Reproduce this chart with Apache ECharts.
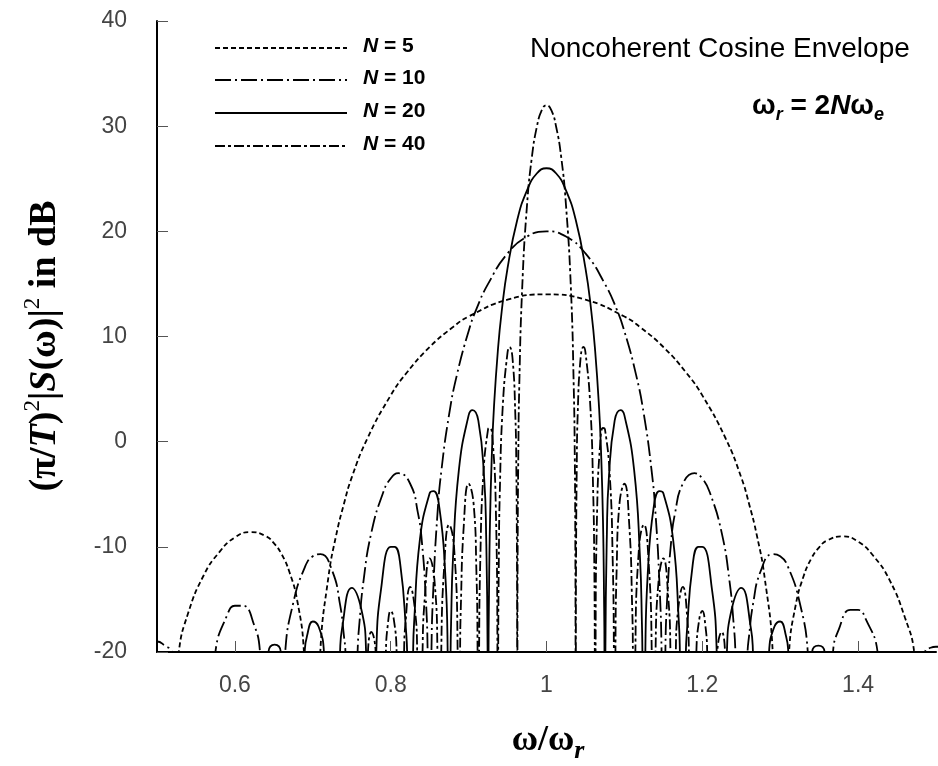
<!DOCTYPE html>
<html>
<head>
<meta charset="utf-8">
<script src="https://cdn.jsdelivr.net/npm/echarts@6/dist/echarts.min.js"></script>
<style>
  html, body { margin: 0; padding: 0; background: #fff; }
  #chart { width: 938px; height: 766px; }
</style>
</head>
<body>
<div id="chart"></div>
<script>
  // tick labels
  var xTicks = [0.6, 0.8, 1, 1.2, 1.4]
  var legendNames = ['5', '10', '20', '40']

  // [omega/omega_r, dB]; values at -40 mark the nulls (below the axis)
  var n5 = [
    [0.5, -40], [0.528, -20], [0.54, -16.3], [0.56, -12.7], [0.58, -10.5], [0.6, -9.1], [0.62, -8.6],
    [0.64, -9.0], [0.65, -9.65], [0.66, -10.7], [0.67, -12.4], [0.68, -15.1], [0.6886, -20], [0.7, -40],
    [0.7096, -20], [0.72, -12.9], [0.73, -8.9], [0.74, -5.9], [0.75, -3.4], [0.77, 0.3], [0.8, 4.4],
    [0.82, 6.5], [0.85, 9.0], [0.88, 10.9], [0.9, 11.9], [0.95, 13.5], [1, 14.0],
    [1.05, 13.5], [1.1, 11.9], [1.12, 10.9], [1.15, 9.0], [1.18, 6.5], [1.2, 4.4], [1.23, 0.3],
    [1.25, -3.4], [1.26, -5.9], [1.27, -8.9], [1.28, -12.9], [1.2904, -20], [1.3, -40],
    [1.3114, -20], [1.32, -15.5], [1.33, -12.8], [1.34, -11.1], [1.35, -10.05], [1.36, -9.4], [1.38, -9.0],
    [1.4, -9.5], [1.42, -10.9], [1.44, -13.1], [1.46, -16.7], [1.472, -20], [1.5, -40]
  ]

  var n10 = [
    [0.49, -19.1], [0.5, -19.0], [0.51, -19.4], [0.519, -20], [0.55, -40],
    [0.575, -20], [0.59, -16.5], [0.6, -15.6], [0.61, -15.6], [0.625, -17.5], [0.6322, -20], [0.65, -40],
    [0.6646, -20], [0.675, -15.3], [0.69, -11.9], [0.7, -10.9], [0.71, -10.7], [0.725, -12.3], [0.735, -15.5],
    [0.74, -18.5], [0.7419, -20], [0.75, -40],
    [0.7575, -20], [0.76, -17.1], [0.765, -13.3], [0.775, -8.7], [0.79, -4.9], [0.8, -3.5], [0.81, -3.0],
    [0.825, -4.0], [0.835, -6.8], [0.84, -9.5], [0.845, -14.8], [0.8474, -20], [0.85, -40],
    [0.8523, -20], [0.855, -13.5], [0.86, -6.9], [0.865, -2.8], [0.875, 2.6], [0.885, 6.35], [0.9, 10.5],
    [0.91, 12.6], [0.925, 15.0], [0.95, 17.9], [0.975, 19.5], [1, 20.0],
    [1.025, 19.5], [1.05, 17.9], [1.075, 15.0], [1.09, 12.6], [1.1, 10.5], [1.115, 6.35], [1.125, 2.6],
    [1.135, -2.8], [1.14, -6.9], [1.145, -13.5], [1.1477, -20], [1.15, -40],
    [1.1526, -20], [1.155, -14.8], [1.16, -9.5], [1.165, -6.8], [1.175, -4.0], [1.19, -3.0], [1.2, -3.5],
    [1.21, -4.9], [1.225, -8.7], [1.235, -13.3], [1.24, -17.1], [1.2425, -20], [1.25, -40],
    [1.2581, -20], [1.26, -18.5], [1.265, -15.5], [1.275, -12.3], [1.29, -10.7], [1.3, -10.9], [1.31, -11.9],
    [1.325, -15.3], [1.3354, -20], [1.35, -40],
    [1.3678, -20], [1.375, -17.9], [1.39, -16.0], [1.4, -16.0], [1.41, -16.9], [1.425, -20], [1.45, -40],
    [1.486, -20], [1.493, -19.6], [1.5, -19.5], [1.51, -19.5]
  ]

  var n20 = [
    [0.625, -40], [0.643, -20], [0.651, -19.3], [0.659, -20], [0.675, -40],
    [0.6896, -20], [0.6925, -18.5], [0.7, -17.1], [0.7075, -17.6], [0.7143, -20], [0.725, -40],
    [0.735, -20], [0.7375, -17.8], [0.75, -13.9], [0.7625, -16.0], [0.7684, -20], [0.775, -40],
    [0.7815, -20], [0.7875, -14.1], [0.8, -10.0], [0.805, -10.0], [0.8125, -11.8], [0.82, -18.3], [0.8211, -20], [0.825, -40],
    [0.8288, -20], [0.83, -17.3], [0.8375, -9.3], [0.85, -4.9], [0.855, -4.7], [0.8625, -6.3], [0.87, -12.5],
    [0.8731, -20], [0.875, -40],
    [0.8769, -20], [0.8775, -17.3], [0.88, -11.0], [0.8875, -2.7], [0.9, 2.5], [0.905, 3.0], [0.9125, 2.0],
    [0.92, -3.5], [0.9225, -8.8], [0.9244, -20], [0.925, -40],
    [0.9256, -20], [0.926, -15.8], [0.9275, -7.5], [0.93, -0.9], [0.9325, 3.2], [0.9375, 8.6], [0.9425, 12.4],
    [0.95, 16.5], [0.9625, 21.1], [0.975, 23.9], [0.9875, 25.5], [1, 26.0],
    [1.0125, 25.5], [1.025, 23.9], [1.0375, 21.1], [1.05, 16.5], [1.0575, 12.4], [1.0625, 8.6], [1.0675, 3.2],
    [1.07, -0.9], [1.0725, -7.5], [1.074, -15.8], [1.0744, -20], [1.075, -40],
    [1.0756, -20], [1.0775, -8.8], [1.08, -3.5], [1.0875, 2.0], [1.095, 3.0], [1.1, 2.5], [1.1125, -2.7],
    [1.12, -11.0], [1.1225, -17.3], [1.1231, -20], [1.125, -40],
    [1.1269, -20], [1.13, -12.5], [1.1375, -6.3], [1.145, -4.7], [1.15, -4.9], [1.1625, -9.3], [1.17, -17.3],
    [1.1712, -20], [1.175, -40],
    [1.1789, -20], [1.18, -18.3], [1.1875, -11.8], [1.195, -10.0], [1.2, -10.0], [1.2125, -14.1], [1.2185, -20], [1.225, -40],
    [1.2316, -20], [1.2375, -16.0], [1.25, -13.9], [1.2625, -17.8], [1.265, -20], [1.275, -40],
    [1.2857, -20], [1.2925, -17.6], [1.3, -17.1], [1.3075, -18.5], [1.3104, -20], [1.325, -40],
    [1.341, -20], [1.349, -19.4], [1.357, -20], [1.375, -40]
  ]

  var n40 = [
    [0.7625, -40], [0.7708, -20], [0.775, -18.1], [0.7807, -20], [0.7875, -40],
    [0.7938, -20], [0.7963, -17.4], [0.8, -16.1], [0.8038, -16.8], [0.8076, -20], [0.8125, -40],
    [0.8172, -20], [0.8188, -17.4], [0.825, -13.8], [0.8313, -16.1], [0.834, -20], [0.8375, -40],
    [0.8409, -20], [0.8438, -14.8], [0.85, -11.1], [0.8563, -13.3], [0.86, -20], [0.8625, -40],
    [0.8649, -20], [0.8688, -11.7], [0.875, -7.9], [0.8813, -10.0], [0.8859, -20], [0.8875, -40],
    [0.8891, -20], [0.89, -15.8], [0.8938, -8.0], [0.9, -4.0], [0.9063, -5.8], [0.91, -12.3], [0.9115, -20], [0.9125, -40],
    [0.9135, -20], [0.915, -11.3], [0.9188, -3.3], [0.925, 1.2], [0.9275, 1.3], [0.9313, -0.3], [0.935, -6.5],
    [0.937, -20], [0.9375, -40],
    [0.938, -20], [0.9388, -11.3], [0.94, -5.0], [0.9438, 3.3], [0.95, 8.5], [0.9525, 9.0], [0.9563, 8.0],
    [0.96, 2.5], [0.9613, -2.8], [0.962, -10.3], [0.9623, -20], [0.9625, -40],
    [0.9627, -20], [0.963, -9.8], [0.9638, -1.5], [0.965, 5.1], [0.9688, 14.6], [0.975, 22.5], [0.9813, 27.1],
    [0.9875, 29.9], [0.9938, 31.5], [1, 32.0],
    [1.0063, 31.5], [1.0125, 29.9], [1.0188, 27.1], [1.025, 22.5], [1.0313, 14.6], [1.035, 5.1], [1.0363, -1.5],
    [1.037, -9.8], [1.0373, -20], [1.0375, -40],
    [1.0377, -20], [1.038, -10.3], [1.0388, -2.8], [1.04, 2.5], [1.0438, 8.0], [1.0475, 9.0], [1.05, 8.5],
    [1.0563, 3.3], [1.06, -5.0], [1.0613, -11.3], [1.062, -20], [1.0625, -40],
    [1.063, -20], [1.065, -6.5], [1.0688, -0.3], [1.0725, 1.3], [1.075, 1.2], [1.0813, -3.3], [1.085, -11.3],
    [1.0865, -20], [1.0875, -40],
    [1.0885, -20], [1.09, -12.3], [1.0938, -5.8], [1.1, -4.0], [1.1063, -8.0], [1.11, -15.8], [1.1109, -20], [1.1125, -40],
    [1.1141, -20], [1.1188, -10.0], [1.125, -7.9], [1.1313, -11.7], [1.1351, -20], [1.1375, -40],
    [1.14, -20], [1.1438, -13.3], [1.15, -11.1], [1.1563, -14.8], [1.1591, -20], [1.1625, -40],
    [1.166, -20], [1.1688, -16.1], [1.175, -13.8], [1.1813, -17.4], [1.1828, -20], [1.1875, -40],
    [1.1924, -20], [1.1963, -16.8], [1.2, -16.1], [1.2038, -17.4], [1.2063, -20], [1.2125, -40],
    [1.2193, -20], [1.225, -18.1], [1.2292, -20], [1.2375, -40]
  ]

  var dashes = [[5, 3], [16, 4, 2, 4], 'solid', [10, 3, 3, 3]]
  var curves = [n5, n10, n20, n40]

  var chart = echarts.init(document.getElementById('chart'), null, {renderer: 'canvas'})

  var series = curves.map(function (d, i) {
    return {
      name: 'N = ' + legendNames[i],
      type: 'line',
      data: d,
      smooth: 0.5,
      showSymbol: false,
      symbol: 'none',
      clip: true,
      lineStyle: {color: '#000', width: 1.8, type: dashes[i]},
      z: 3
    }
  })

  // legend drawn by hand (line samples + italic N)
  var graphics = []
  var rowY = [48, 80, 113, 146]
  legendNames.forEach(function (n, i) {
    graphics.push({
      type: 'line',
      shape: {x1: 215, y1: rowY[i], x2: 347, y2: rowY[i]},
      style: {stroke: '#000', lineWidth: 1.8, lineDash: dashes[i] === 'solid' ? null : dashes[i]}
    })
    graphics.push({
      type: 'text', left: 363, top: rowY[i] - 12,
      style: {
        text: '{i|N} = ' + n,
        fontFamily: 'Liberation Sans', fontSize: 21, fontWeight: 'bold', fill: '#000',
        rich: {i: {fontStyle: 'italic', fontWeight: 'bold', fontFamily: 'Liberation Sans', fontSize: 21}}
      }
    })
  })
  graphics.push({
    type: 'text', left: 530, top: 35,
    style: {text: 'Noncoherent Cosine Envelope', fontFamily: 'Liberation Sans', fontSize: 28, fill: '#000'}
  })
  graphics.push({
    type: 'text', left: 752, top: 92,
    style: {
      text: '{w|ω}{s|r}{w| = 2}{i|N}{w|ω}{s|e}',
      fill: '#000',
      rich: {
        w: {fontFamily: 'Liberation Sans', fontSize: 28, fontWeight: 'bold', lineHeight: 36},
        i: {fontFamily: 'Liberation Sans', fontSize: 28, fontWeight: 'bold', fontStyle: 'italic', lineHeight: 36},
        s: {fontFamily: 'Liberation Sans', fontSize: 18, fontWeight: 'bold', fontStyle: 'italic', verticalAlign: 'bottom', lineHeight: 36}
      }
    }
  })
  graphics.push({
    type: 'text', x: 45, y: 346, rotation: Math.PI / 2,
    style: {
      text: '{p|(π/}{t|T}{p|)}{u|2}{p||}{t|S}{p|(ω)|}{u|2}{p| in dB}',
      align: 'center', verticalAlign: 'middle', fill: '#000',
      rich: {
        p: {fontFamily: 'Liberation Serif', fontSize: 38, fontWeight: 'bold', lineHeight: 48},
        t: {fontFamily: 'Liberation Serif', fontSize: 38, fontWeight: 'bold', fontStyle: 'italic', lineHeight: 48},
        u: {fontFamily: 'Liberation Serif', fontSize: 23, verticalAlign: 'top', lineHeight: 48}
      }
    }
  })
  graphics.push({
    type: 'text', x: 548, y: 741,
    style: {
      text: '{p|ω/ω}{r|r}',
      align: 'center', verticalAlign: 'middle', fill: '#000',
      rich: {
        p: {fontFamily: 'Liberation Serif', fontSize: 36, fontWeight: 'bold', lineHeight: 46},
        r: {fontFamily: 'Liberation Serif', fontSize: 26, fontWeight: 'bold', fontStyle: 'italic', verticalAlign: 'bottom', lineHeight: 46}
      }
    }
  })

  chart.setOption({
    animation: false,
    backgroundColor: '#fff',
    grid: {left: 157, right: 2, top: 21, bottom: 114, containLabel: false},
    xAxis: {
      type: 'value',
      min: 0.5,
      max: 1.5,
      axisLine: {show: true, onZero: false, lineStyle: {color: '#000', width: 2}},
      axisTick: {show: true, inside: true, length: 11, customValues: xTicks, lineStyle: {color: '#555', width: 1}},
      axisLabel: {customValues: xTicks, margin: 22, fontSize: 23, color: '#444', fontFamily: 'Liberation Sans'},
      splitLine: {show: false}
    },
    yAxis: {
      type: 'value',
      min: -20,
      max: 40,
      interval: 10,
      axisLine: {show: true, lineStyle: {color: '#000', width: 2}},
      axisTick: {show: true, inside: true, length: 11, lineStyle: {color: '#555', width: 1}},
      axisLabel: {margin: 30, fontSize: 23, color: '#444', fontFamily: 'Liberation Sans'},
      splitLine: {show: false}
    },
    graphic: graphics,
    series: series
  })
</script>
</body>
</html>
